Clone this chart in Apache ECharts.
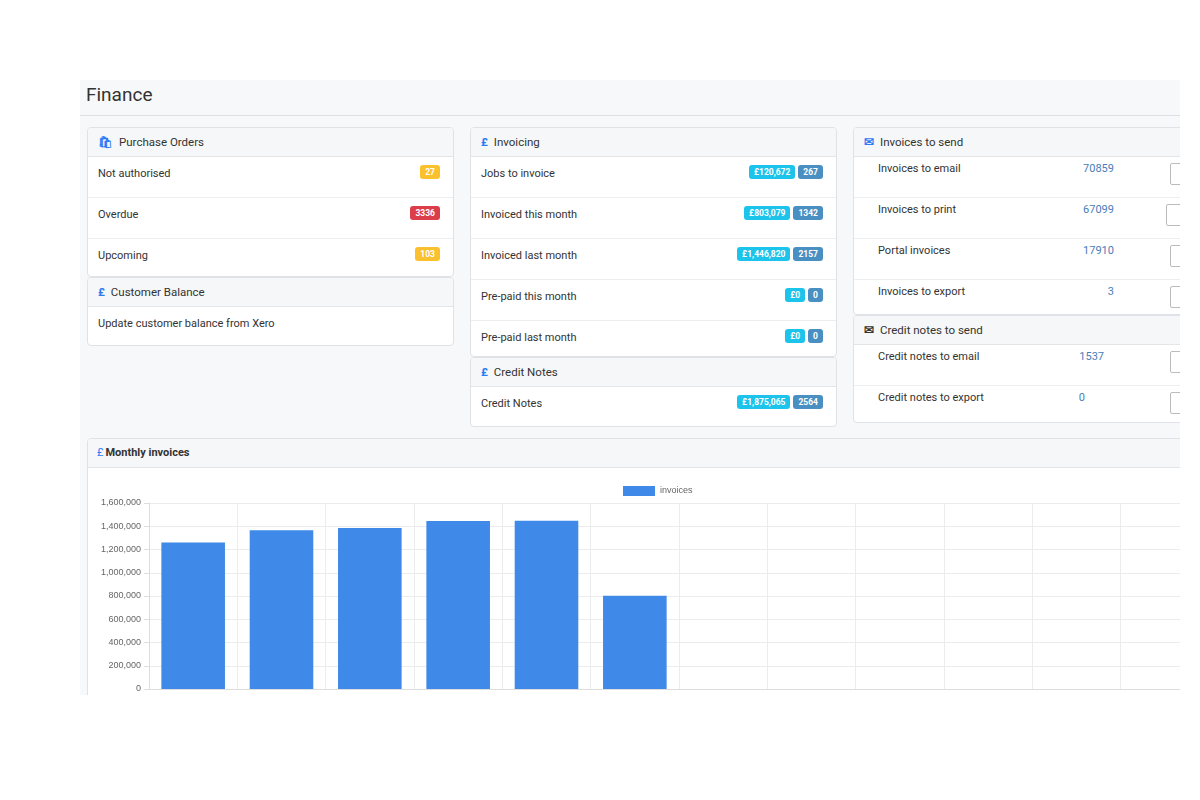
<!DOCTYPE html>
<html><head><meta charset="utf-8">
<script src="https://cdn.jsdelivr.net/npm/echarts@6/dist/echarts.min.js"></script>
<style>
body{margin:0;width:1200px;height:800px;background:#fff;font-family:"Helvetica Neue",Roboto,"Noto Sans",Arial,sans-serif;color:#333;overflow:hidden;position:relative}
#page{position:absolute;left:80px;top:80px;width:1100px;height:615px;background:#f7f8fa;overflow:hidden}
#page .abs{position:absolute}
.title{left:6px;top:3px;font-size:19px;color:#333}
.hr{left:0;top:35px;width:1100px;height:1px;background:#dde0e4}
.card{position:absolute;background:#fff;border:1px solid #dfe2e6;border-radius:4px;overflow:hidden;box-sizing:border-box}
.ch{height:28px;background:#f6f7f8;border-bottom:1px solid #e3e5e8;font-size:11.5px;line-height:28px;padding-left:10px;color:#333}
.row{height:40px;border-bottom:1px solid #eceef0;font-size:11px;line-height:34px;padding-left:10px;position:relative}
.row:last-child{border-bottom:none}
.ico{color:#2d7bf4;font-weight:bold;margin-right:6px}
.b{display:inline-block;font-size:8.5px;font-weight:bold;color:#fff;border-radius:3px;padding:0 5px;height:14px;line-height:14px;margin-left:3px;vertical-align:middle}
.bs{position:absolute;right:13px;top:-2px}
.y{background:#fbc02d}.r{background:#dc3d4b}.c{background:#1cc3ea}.d{background:#4a8fc2}
.num{position:absolute;left:0;width:260px;text-align:right;color:#4a7db8;top:0}
.box{position:absolute;left:316px;top:6px;width:24px;height:20px;border:1px solid #bbb;border-radius:2px;background:#fff}
.r3{padding-left:24px;line-height:24px}
</style></head><body>
<div id="page">
 <div class="abs title">Finance</div>
 <div class="abs hr"></div>
 <div class="card" style="left:7px;top:47px;width:367px;height:150px">
  <div class="ch"><span class="ico">&#128717;</span>Purchase Orders</div>
  <div class="row">Not authorised<span class="bs"><span class="b y">27</span></span></div>
  <div class="row">Overdue<span class="bs"><span class="b r">3336</span></span></div>
  <div class="row">Upcoming<span class="bs"><span class="b y">103</span></span></div>
 </div>
 <div class="card" style="left:7px;top:197px;width:367px;height:69px">
  <div class="ch"><span class="ico">&#163;</span>Customer Balance</div>
  <div class="row">Update customer balance from Xero</div>
 </div>
 <div class="card" style="left:390px;top:47px;width:367px;height:230px">
  <div class="ch"><span class="ico">&#163;</span>Invoicing</div>
  <div class="row">Jobs to invoice<span class="bs"><span class="b c">£120,672</span><span class="b d">267</span></span></div>
  <div class="row">Invoiced this month<span class="bs"><span class="b c">£803,079</span><span class="b d">1342</span></span></div>
  <div class="row">Invoiced last month<span class="bs"><span class="b c">£1,446,820</span><span class="b d">2157</span></span></div>
  <div class="row">Pre-paid this month<span class="bs"><span class="b c">£0</span><span class="b d">0</span></span></div>
  <div class="row">Pre-paid last month<span class="bs"><span class="b c">£0</span><span class="b d">0</span></span></div>
 </div>
 <div class="card" style="left:390px;top:277px;width:367px;height:70px">
  <div class="ch"><span class="ico">&#163;</span>Credit Notes</div>
  <div class="row">Credit Notes<span class="bs"><span class="b c">£1,875,065</span><span class="b d">2564</span></span></div>
 </div>
 <div class="card" style="left:773px;top:47px;width:360px;height:188px">
  <div class="ch"><span class="ico">&#9993;</span>Invoices to send</div>
  <div class="row r3">Invoices to email<span class="num">70859</span><span class="box"></span></div>
  <div class="row r3">Invoices to print<span class="num">67099</span><span class="box" style="left:312px"></span></div>
  <div class="row r3">Portal invoices<span class="num">17910</span><span class="box"></span></div>
  <div class="row r3">Invoices to export<span class="num">3</span><span class="box"></span></div>
 </div>
 <div class="card" style="left:773px;top:235px;width:360px;height:108px">
  <div class="ch"><span class="ico" style="color:#333">&#9993;</span>Credit notes to send</div>
  <div class="row r3">Credit notes to email<span class="num" style="width:250px">1537</span><span class="box"></span></div>
  <div class="row r3">Credit notes to export<span class="num" style="width:231px">0</span><span class="box"></span></div>
 </div>
 <div class="card" style="left:7px;top:358px;width:1140px;height:300px">
  <div class="ch" style="font-weight:bold;font-size:11px;padding-left:9px"><span style="color:#2d7bf4;font-weight:normal;margin-right:2px">&#163;</span>Monthly invoices</div>
  <div id="chart" style="position:absolute;left:0;top:28px;width:1140px;height:270px"></div>
 </div>
</div>
<script>
var months=['Jan','Feb','Mar','Apr','May','Jun','Jul','Aug','Sep','Oct','Nov','Dec'];
var invoices=[1260000,1365000,1385000,1445000,1446820,803079,null,null,null,null,null,null];
var yTicks=[0,200000,400000,600000,800000,1000000,1200000,1400000,1600000];
var ch=echarts.init(document.getElementById('chart'));
ch.setOption({
 animation:false,
 legend:{top:14,left:530,itemWidth:32,itemHeight:10,itemGap:6,icon:'rect',textStyle:{fontSize:9,color:'#666'},data:['invoices']},
 grid:{left:61,top:36,width:1060,height:186},
 xAxis:{type:'category',data:months,axisLabel:{show:false},axisTick:{show:false},axisLine:{lineStyle:{color:'#ddd'}},splitLine:{show:true,lineStyle:{color:'#ececec'}}},
 yAxis:{type:'value',min:0,max:1600000,interval:200000,axisLabel:{fontSize:9,color:'#666',formatter:function(v){return v.toLocaleString('en-US');}},splitLine:{lineStyle:{color:'#ececec'}},axisLine:{show:true,lineStyle:{color:'#ddd'}},axisTick:{show:true,lineStyle:{color:'#ddd'}}},
 series:[{name:'invoices',type:'bar',data:invoices,barWidth:'72%',itemStyle:{color:'#3f8ae8'}}]
});
</script>
</body></html>
